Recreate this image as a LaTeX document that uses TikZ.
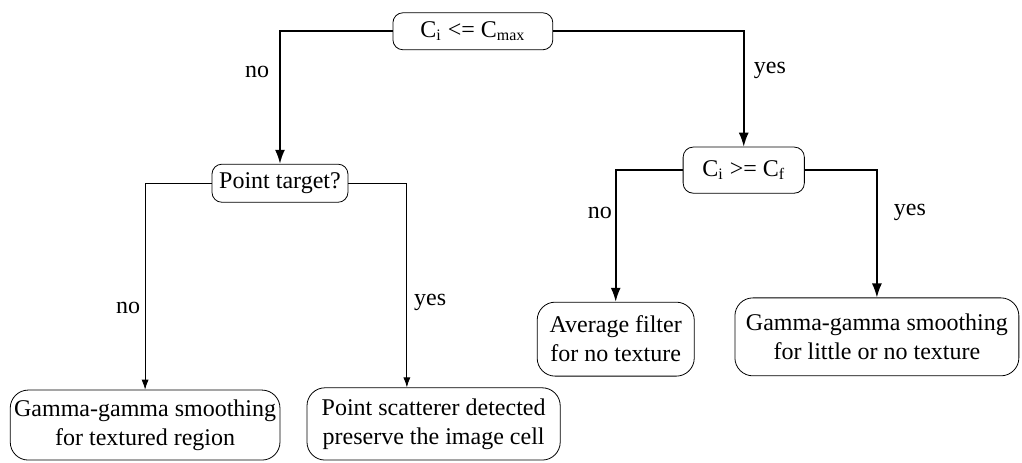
\documentclass[tikz,border=0pt]{standalone}
\usepackage{fontspec}
\setmainfont{Liberation Serif}
\usetikzlibrary{arrows.meta}

\tikzset{
  cond/.style={draw, thin, rounded corners=5pt, align=center, inner sep=0pt},
  result/.style={draw, thin, rounded corners=9pt, align=center, inner sep=0pt},
  mainarrow/.style={thick, -{Latex[length=7pt,width=5pt]}},
  subarrow/.style={thin, -{Latex[length=5pt,width=3.5pt]}},
  lbl/.style={inner sep=0pt}
}

\begin{document}
\begin{tikzpicture}[font=\fontsize{12}{14.5}\selectfont]
  \useasboundingbox (0,0) rectangle (17.96,8.12);

  \node[cond, minimum width=2.81cm, minimum height=0.65cm] (top) at (8.31,7.57) {C\textsubscript{i} <= C\textsubscript{max}};
  \node[cond, minimum width=2.39cm, minimum height=0.67cm] (pt) at (4.92,4.90) {Point target?};
  \node[cond, minimum width=2.13cm, minimum height=0.81cm] (cf) at (13.07,5.13) {C\textsubscript{i} >= C\textsubscript{f}};

  \node[result, minimum width=2.76cm, minimum height=1.30cm] (avg) at (10.82,2.16) {Average filter\\for no texture};
  \node[result, minimum width=4.99cm, minimum height=1.37cm] (gl) at (15.41,2.20) {Gamma-gamma smoothing\\for little or no texture};
  \node[result, minimum width=4.74cm, minimum height=1.23cm] (gt) at (2.55,0.65) {Gamma-gamma smoothing\\for textured region};
  \node[result, minimum width=4.45cm, minimum height=1.27cm] (ps) at (7.62,0.67) {Point scatterer detected\\preserve the image cell};

  \draw[mainarrow] (top.west) -| (pt.north);
  \draw[mainarrow] (top.east) -| (cf.north);
  \draw[mainarrow] (cf.west) -| (avg.north);
  \draw[mainarrow] (cf.east) -| (gl.north);
  \draw[subarrow] (pt.west) -| (gt.north);
  \draw[subarrow] (pt.east) -| ([xshift=-0.47cm]ps.north);

  \node[lbl] (no1) at (4.52,6.85) {no};
  \node[lbl] (yes1) at (13.53,6.89) {yes};
  \node[lbl] (no2) at (10.54,4.38) {no};
  \node[lbl] (yes2) at (15.99,4.38) {yes};
  \node[lbl] (no3) at (2.25,2.71) {no};
  \node[lbl] (yes3) at (7.56,2.81) {yes};
\end{tikzpicture}
\end{document}
